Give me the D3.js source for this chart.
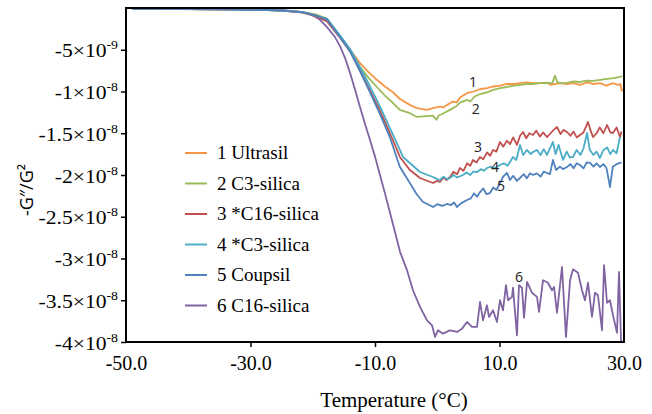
<!DOCTYPE html>
<html><head><meta charset="utf-8">
<script src="https://cdn.jsdelivr.net/npm/d3@7"></script>
<style>body{margin:0;background:#fff}svg{display:block}</style>
</head><body>
<svg id="chart" width="652" height="414"></svg>
<script>
// values in units of 1e-9 (G''/G^2), temperature in °C
const seriesNames = ["1 Ultrasil","2 C3-silica","3 *C16-silica","4 *C3-silica","5 Coupsil","6 C16-silica"];
const seriesColors = ["#F79646","#9BBB59","#C0504D","#4BACC6","#4F81BD","#8064A2"];
const curveLabels = ["1","2","3","4","5","6"];
const xTickValues = [-50,-30,-10,10,30];
const xTickLabels = ["-50.0","-30.0","-10.0","10.0","30.0"];
const yTickValues = [-5,-10,-15,-20,-25,-30,-35,-40];
const yTickMant = ["-5","-1","-1.5","-2","-2.5","-3","-3.5","-4"];
const yTickExp = ["-9","-8","-8","-8","-8","-8","-8","-8"];

const s1 = [[-49,-0.1],[-40,-0.12],[-30,-0.18],[-25,-0.3],[-21.6,-0.5],[-19.5,-0.8],[-17.7,-1.3],[-15.6,-3.4],[-14.0,-5.0],[-12.4,-6.6],[-11,-7.7],[-9.7,-8.6],[-8.4,-9.4],[-7.1,-10.1],[-6.0,-10.9],[-4.4,-11.6],[-3.25,-12.0],[-1.65,-12.2],[-0.7,-12.0],[0.44,-11.8],[1.0,-11.9],[1.6,-11.6],[2.5,-11.2],[3.1,-11.3],[3.7,-10.7],[4.8,-10.2],[5.8,-10.0],[6.9,-9.7],[8.0,-9.6],[9.0,-9.4],[10.1,-9.3],[11.2,-9.1],[12.3,-9.1],[13.3,-9.0],[14.4,-8.9],[15.4,-9.0],[16.5,-9.0],[17.6,-8.95],[18.2,-9.2],[19.7,-9.0],[20.8,-9.1],[21.8,-9.0],[22.9,-9.2],[24.1,-8.9],[25.0,-9.1],[26.1,-9.0],[27.2,-9.3],[28.2,-9.0],[29.0,-9.2],[29.4,-9.1],[29.7,-10.0]];
const s2 = [[-49,-0.1],[-40,-0.12],[-30,-0.18],[-25,-0.3],[-21.6,-0.5],[-19.5,-0.8],[-17.7,-1.3],[-15.6,-3.4],[-14.0,-5.1],[-12.4,-7.07],[-11,-8.4],[-9.7,-9.46],[-8.4,-10.5],[-7.1,-11.38],[-6.0,-12.2],[-4.4,-12.6],[-3.3,-13.05],[-1.6,-12.95],[-0.7,-12.9],[-0.1,-13.4],[0.2,-12.9],[1.0,-12.6],[2.05,-12.2],[3.0,-11.8],[3.7,-11.3],[4.8,-11.0],[5.3,-11.2],[6.0,-10.6],[6.9,-10.3],[8.0,-10.1],[9.0,-9.8],[10.1,-9.6],[11.2,-9.46],[12.3,-9.3],[13.3,-9.2],[14.3,-9.1],[15.4,-9.1],[16.5,-9.0],[17.6,-8.98],[18.5,-9.0],[18.9,-8.1],[19.3,-8.9],[20.0,-9.0],[20.8,-8.98],[21.9,-8.8],[22.9,-8.86],[24.0,-8.7],[25.0,-8.74],[26.2,-8.6],[27.3,-8.5],[28.3,-8.4],[29.4,-8.26],[29.7,-8.1]];
const s3 = [[-49,-0.1],[-40,-0.12],[-30,-0.18],[-25,-0.3],[-21.6,-0.55],[-19.5,-1.0],[-17.7,-1.6],[-15.6,-3.6],[-14.0,-5.2],[-12.4,-7.5],[-10.8,-9.9],[-9.2,-12.3],[-7.6,-15.0],[-6.3,-17.3],[-6.0,-17.84],[-4.4,-19.4],[-2.77,-20.36],[-0.68,-20.96],[0.0,-20.7],[0.44,-20.84],[1.0,-20.3],[1.5,-20.6],[2.05,-20.24],[2.6,-19.6],[3.2,-19.9],[3.65,-19.16],[4.2,-19.5],[4.8,-18.6],[5.3,-18.9],[5.74,-18.2],[6.3,-18.5],[6.87,-17.84],[7.4,-18.1],[8.0,-17.3],[8.5,-17.7],[8.96,-17.0],[9.5,-17.2],[10.08,-16.05],[10.6,-16.6],[11.2,-15.9],[11.69,-16.3],[12.2,-15.5],[12.8,-16.4],[13.3,-15.3],[13.78,-14.85],[14.3,-15.6],[14.8,-15.0],[15.38,-15.21],[15.9,-14.7],[16.5,-15.4],[17.0,-14.9],[17.63,-15.45],[18.2,-15.0],[18.7,-14.6],[19.24,-14.25],[19.8,-15.1],[20.3,-14.6],[20.84,-14.85],[21.4,-15.3],[21.9,-14.8],[22.4,-15.5],[22.93,-15.21],[23.5,-14.9],[24.22,-13.65],[24.6,-14.6],[25.02,-15.45],[25.6,-15.0],[26.1,-14.3],[26.7,-15.0],[27.27,-14.01],[27.8,-14.9],[28.23,-14.97],[28.8,-14.3],[29.36,-15.45],[29.6,-14.8]];
const s4 = [[-49,-0.1],[-40,-0.12],[-30,-0.18],[-25,-0.3],[-21.6,-0.5],[-19.5,-0.9],[-17.7,-1.3],[-15.6,-3.3],[-14.0,-4.9],[-12.4,-7.1],[-10.8,-9.4],[-9.2,-11.8],[-7.6,-14.4],[-6.0,-17.0],[-5.5,-17.84],[-4.4,-18.56],[-2.77,-19.64],[-0.68,-20.24],[0.0,-20.5],[0.44,-20.6],[1.0,-20.2],[1.6,-20.5],[2.05,-20.36],[2.6,-20.0],[3.2,-20.3],[4.14,-20.0],[4.7,-19.7],[5.3,-20.0],[5.8,-19.6],[6.39,-19.64],[7.0,-19.3],[7.5,-19.5],[7.99,-19.16],[8.6,-19.0],[9.2,-19.2],[10.08,-18.8],[10.7,-18.6],[11.3,-18.9],[12.17,-17.84],[12.7,-18.2],[13.29,-16.41],[13.8,-17.6],[14.4,-17.0],[15.0,-17.5],[15.38,-17.25],[16.0,-17.0],[16.6,-17.6],[17.1,-16.9],[17.63,-17.6],[18.1,-16.8],[18.59,-16.05],[19.0,-17.5],[19.5,-16.4],[20.2,-18.2],[20.8,-17.2],[21.3,-17.9],[21.81,-17.84],[22.4,-17.0],[23.0,-17.6],[23.5,-16.8],[24.06,-14.97],[24.5,-17.0],[25.1,-17.6],[25.6,-17.2],[26.14,-17.96],[26.7,-17.0],[27.3,-16.7],[27.8,-17.5],[28.23,-17.01],[28.8,-17.4],[29.36,-15.45]];
const s5 = [[-49,-0.1],[-40,-0.12],[-30,-0.18],[-25,-0.3],[-21.6,-0.5],[-19.5,-0.9],[-17.7,-1.4],[-15.6,-3.5],[-14.0,-5.2],[-12.4,-7.6],[-10.8,-10.1],[-9.2,-12.7],[-7.6,-15.5],[-6.0,-19.04],[-4.4,-20.96],[-3.3,-22.3],[-2.29,-23.23],[-1.5,-23.5],[-0.68,-23.83],[0.0,-23.5],[0.8,-23.7],[1.57,-23.47],[2.2,-23.6],[2.7,-23.3],[3.17,-23.83],[3.8,-23.4],[4.78,-22.99],[5.4,-22.8],[5.9,-22.2],[6.4,-22.6],[6.87,-22.04],[7.4,-21.6],[7.9,-22.3],[8.47,-22.16],[9.0,-21.5],[9.5,-21.8],[10.08,-20.96],[10.6,-20.2],[11.2,-19.76],[11.7,-20.6],[12.2,-20.1],[12.8,-20.7],[13.29,-20.36],[13.9,-19.9],[14.4,-20.4],[14.9,-19.8],[15.38,-20.0],[16.0,-19.8],[16.6,-20.2],[17.1,-19.6],[17.63,-19.76],[18.1,-19.9],[18.59,-18.2],[19.1,-19.4],[19.7,-19.0],[20.2,-19.3],[20.84,-19.04],[21.4,-18.7],[21.9,-19.2],[22.4,-18.6],[22.93,-18.8],[23.5,-19.2],[24.0,-18.5],[24.54,-18.56],[25.1,-19.0],[25.6,-18.6],[26.14,-19.04],[26.7,-18.7],[27.2,-19.2],[27.75,-21.44],[28.2,-19.0],[28.8,-18.7],[29.36,-18.56],[29.6,-18.5]];
const s6 = [[-49,-0.1],[-35,-0.15],[-25,-0.25],[-22.5,-0.4],[-20.4,-0.7],[-19,-1.3],[-17.7,-2.3],[-16.5,-3.4],[-15.6,-4.6],[-14.8,-6.0],[-14.0,-7.8],[-13.2,-9.8],[-12.4,-11.9],[-11.6,-13.9],[-10.8,-15.8],[-10.0,-17.8],[-9.2,-20.0],[-8.4,-22.2],[-7.6,-24.5],[-6.8,-26.8],[-5.98,-29.2],[-4.86,-31.4],[-3.9,-33.8],[-2.77,-35.8],[-1.65,-37.4],[-0.84,-38.0],[-0.36,-39.4],[0.12,-38.6],[0.92,-39.0],[2.05,-38.6],[3.17,-38.8],[3.98,-38.4],[4.78,-37.6],[5.58,-38.2],[6.39,-38.2],[6.87,-35.2],[7.35,-37.4],[7.99,-35.6],[8.31,-37.0],[8.96,-36.2],[9.6,-37.6],[10.08,-35.0],[10.56,-36.2],[11.04,-33.2],[11.37,-35.0],[12.01,-34.6],[12.17,-33.5],[12.81,-39.2],[13.13,-33.2],[13.61,-33.5],[13.94,-37.1],[14.42,-32.8],[15.22,-34.1],[16.02,-34.6],[16.35,-36.4],[16.99,-32.6],[17.79,-32.9],[18.43,-33.8],[18.76,-33.4],[19.24,-36.5],[20.04,-31.0],[20.68,-39.4],[21.33,-32.6],[21.81,-31.3],[22.61,-31.7],[23.25,-33.8],[23.73,-35.0],[24.22,-32.9],[24.86,-37.0],[25.34,-34.1],[25.82,-34.4],[26.47,-38.6],[26.79,-30.8],[27.27,-35.3],[27.75,-35.0],[28.23,-36.8],[28.88,-38.9],[29.2,-31.6],[29.52,-39.8],[29.68,-40]];
const allSeries = [s1,s2,s3,s4,s5,s6];
// curve label anchor points (temperature, value)
const labelPos = [[5.74,-8.86],[6.2,-12.1],[6.55,-16.65],[9.28,-19.04],[10.24,-21.3],[13.13,-32.2]];

const svg = d3.select("#chart");
const pLeft=126, pRight=624, pTop=8, pBottom=342;
const x = d3.scaleLinear().domain([-50,30]).range([pLeft,pRight]);
const y = d3.scaleLinear().domain([-40,0]).range([pBottom,pTop]);
const serif = "'Liberation Serif','Times New Roman',serif";
const sans = "'Open Sans',Arial,sans-serif";

// curves
const line = d3.line().x(d=>x(d[0])).y(d=>y(d[1]));
const order = [5,0,1,2,3,4];
svg.append("g").selectAll("path").data(order).join("path")
  .attr("d", i=>line(allSeries[i])).attr("fill","none")
  .attr("stroke", i=>seriesColors[i]).attr("stroke-width",1.8)
  .attr("stroke-linejoin","round");

// frame
svg.append("rect").attr("x",pLeft).attr("y",pTop).attr("width",pRight-pLeft).attr("height",pBottom-pTop)
  .attr("fill","none").attr("stroke","#000").attr("stroke-width",2);

// x axis
const xAxis = d3.axisBottom(x).tickValues(xTickValues).tickSize(5).tickSizeOuter(0)
  .tickFormat((d,i)=>xTickLabels[i]);
const gx = svg.append("g").attr("transform",`translate(0,${pBottom})`).call(xAxis);
gx.select(".domain").remove();
gx.selectAll(".tick line").attr("stroke","#000").attr("stroke-width",1.5)
  .attr("display",(d)=> (d===-50||d===30)?"none":null);
gx.selectAll(".tick text").attr("font-family",serif).attr("font-size",20).attr("fill","#000").attr("dy","1.0em");

// y axis
const ySx = 1.2;
const yAxis = d3.axisLeft(y).tickValues(yTickValues).tickSize(5).tickSizeOuter(0).tickFormat("");
const gy = svg.append("g").attr("transform",`translate(${pLeft},0)`).call(yAxis);
gy.select(".domain").remove();
gy.selectAll(".tick line").attr("stroke","#000").attr("stroke-width",1.5);
gy.selectAll(".tick").each(function(d,i){
  const t = d3.select(this).select("text").attr("x",-8/ySx).attr("dy",null).attr("y",7)
    .attr("transform",`scale(${ySx},1)`)
    .attr("font-family",serif).attr("font-size",18).attr("fill","#000").attr("text-anchor","end");
  t.text(null);
  t.append("tspan").text(yTickMant[i]+"×10");
  t.append("tspan").attr("font-size",11.5).attr("dy",-8).text(yTickExp[i]);
});

// axis titles
svg.append("text").attr("x",394).attr("y",407).attr("text-anchor","middle")
  .attr("font-family",serif).attr("font-size",21).text("Temperature (°C)");
svg.append("text").attr("transform","translate(33,190) rotate(-90)").attr("text-anchor","middle")
  .attr("font-family",sans).attr("font-size",18).text("-G″/G²");

// legend
const lg = svg.append("g");
seriesNames.forEach((n,i)=>{
  const yy = 153 + i*30.5;
  lg.append("line").attr("x1",185).attr("x2",207).attr("y1",yy).attr("y2",yy)
    .attr("stroke",seriesColors[i]).attr("stroke-width",2);
  lg.append("text").attr("x",217).attr("y",yy+6).attr("font-family",serif).attr("font-size",19).text(n);
});

// curve number labels
svg.append("g").selectAll("text").data(labelPos).join("text")
  .attr("x",d=>x(d[0])).attr("y",d=>y(d[1])).attr("text-anchor","middle").attr("dy","0.35em")
  .attr("font-family",sans).attr("font-size",14).attr("fill","#222")
  .text((d,i)=>curveLabels[i]);
</script>
</body></html>
